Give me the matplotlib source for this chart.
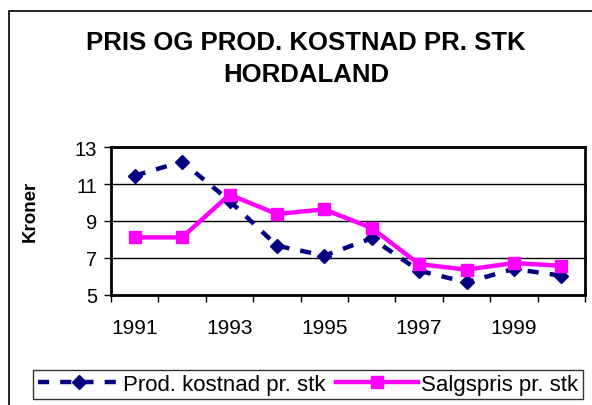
import numpy as np
import matplotlib.pyplot as plt
from matplotlib.patches import Rectangle

plt.rcParams['font.family'] = ['Liberation Sans', 'DejaVu Sans']
plt.rcParams['lines.scale_dashes'] = False

# data
years = ['1991', '1992', '1993', '1994', '1995', '1996', '1997', '1998', '1999', '2000']
prod_kostnad = [11.46, 12.22, 10.1, 7.66, 7.12, 8.06, 6.3, 5.67, 6.4, 6.03]
salgspris = [8.11, 8.11, 10.43, 9.38, 9.63, 8.62, 6.66, 6.36, 6.72, 6.57]
y_ticks = [5, 7, 9, 11, 13]

W, H = 592, 406
fig = plt.figure(figsize=(W / 100, H / 100), dpi=100)

# outer chart frame (right/bottom edges fall outside the picture)
fig.patches.append(Rectangle((9 / W, -0.1), 1.2, (H - 12) / H + 0.1,
                             transform=fig.transFigure, fill=False,
                             edgecolor='black', linewidth=1.2))

ax = fig.add_axes([111 / W, (H - 295.7) / H, (585 - 111) / W, (295.7 - 148.3) / H])
x = np.arange(len(years))

ax.plot(x, prod_kostnad, color='#000080', linewidth=3.2, dashes=(8, 8),
        marker='D', markersize=7.5, label='Prod. kostnad pr. stk', zorder=3)
ax.plot(x, salgspris, color='#FF00FF', linewidth=3.2,
        marker='s', markersize=8.5, label='Salgspris pr. stk', zorder=4)

ax.set_xlim(-0.5, len(years) - 0.5)
ax.set_ylim(5, 13)
ax.set_yticks(y_ticks)
ax.set_yticklabels([str(v) for v in y_ticks], fontsize=14.5)
ax.yaxis.grid(True, color='black', linewidth=1)
ax.set_axisbelow(True)

# category ticks sit between categories, labels every other year
ax.set_xticks(np.arange(-0.5, len(years)), minor=True)
ax.set_xticks(x[::2])
ax.set_xticklabels(years[::2], fontsize=15)
ax.tick_params(axis='x', which='major', length=0, pad=17)
ax.tick_params(axis='x', which='minor', length=5, width=1, direction='out')
ax.tick_params(axis='y', length=5, width=1, direction='out', pad=5)

for s in ax.spines.values():
    s.set_linewidth(2)

ax.set_ylabel('Kroner', fontsize=13.5, fontweight='bold')
ax.yaxis.set_label_coords((39 - 111) / (585 - 111), 0.575)

fig.text(306 / W, 1 - 59 / H, 'PRIS OG PROD. KOSTNAD PR. STK\nHORDALAND',
         ha='center', va='center', fontsize=18.5, fontweight='bold', linespacing=1.45)

leg = fig.legend(loc='center', bbox_to_anchor=(308 / W, 1 - 385.5 / H), ncol=2,
                 fontsize=16, frameon=True, fancybox=False, handlelength=3.7,
                 handletextpad=0.15, columnspacing=0.45, borderpad=0.2,
                 borderaxespad=0)
leg.get_frame().set_edgecolor('black')
leg.get_frame().set_linewidth(1)

fig.savefig('out.png', dpi=100)
